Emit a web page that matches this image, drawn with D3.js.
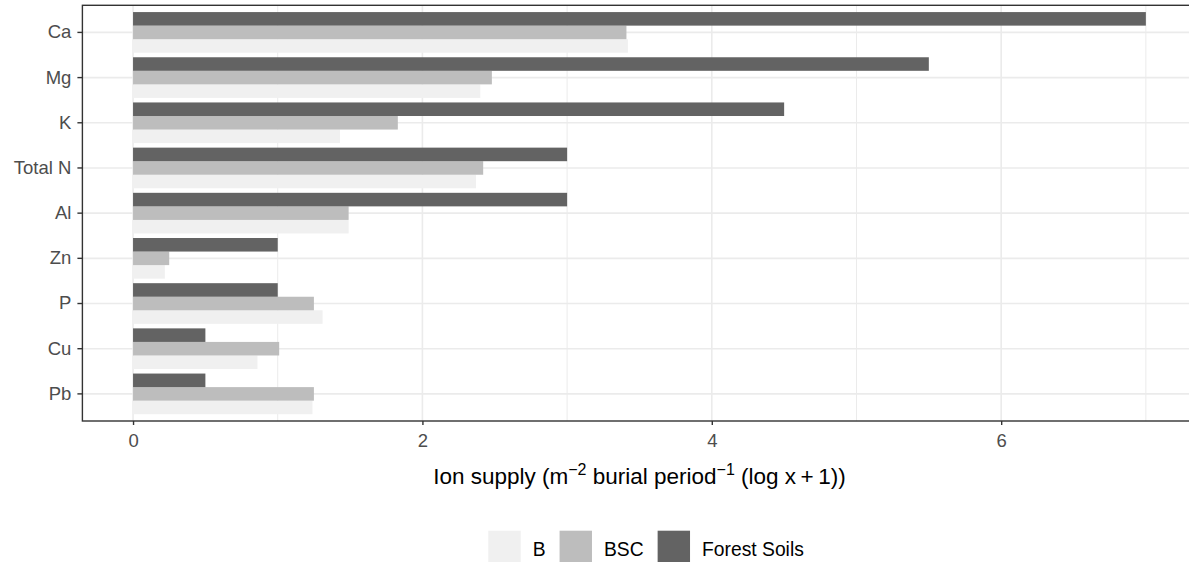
<!DOCTYPE html>
<html>
<head>
<meta charset="utf-8">
<script src="https://cdn.jsdelivr.net/npm/d3@7"></script>
<style>
  body { margin: 0; background: #fff; }
  svg { display: block; font-family: "Liberation Sans", Arial, sans-serif; }
</style>
</head>
<body>
<div id="chart"></div>
<script>
// element order, top to bottom
const elements = ["Ca", "Mg", "K", "Total N", "Al", "Zn", "P", "Cu", "Pb"];
const seriesNames = ["B", "BSC", "Forest Soils"];
const valuesB = [3.42, 2.40, 1.43, 2.37, 1.49, 0.22, 1.31, 0.86, 1.24];
const valuesBSC = [3.41, 2.48, 1.83, 2.42, 1.49, 0.25, 1.25, 1.01, 1.25];
const valuesForest = [7.0, 5.5, 4.5, 3.0, 3.0, 1.0, 1.0, 0.5, 0.5];
const xTicks = [0, 2, 4, 6];
const xMinor = [1, 3, 5, 7];
const fills = ["#F0F0F0", "#BDBDBD", "#636363"];

const width = 1189, height = 562;
const panel = { left: 82.4, top: 5.3, right: 1196.5, bottom: 421 };

const svg = d3.select("#chart").append("svg")
    .attr("width", width)
    .attr("height", height);

const x = d3.scaleLinear().domain([-0.35, 7.35]).range([panel.left, panel.right]);
const y = d3.scaleBand().domain(elements).range([panel.top, panel.bottom])
    .paddingInner(0.1).paddingOuter(0.15);
// dodge: B at the bottom, Forest Soils at the top of each group
const inner = d3.scaleBand().domain(["Forest Soils", "BSC", "B"]).range([0, y.bandwidth()]);
const color = d3.scaleOrdinal().domain(seriesNames).range(fills);

const rows = [];
elements.forEach((el, i) => {
    rows.push({ el, series: "B", value: valuesB[i] });
    rows.push({ el, series: "BSC", value: valuesBSC[i] });
    rows.push({ el, series: "Forest Soils", value: valuesForest[i] });
});

// grid
const grid = svg.append("g");
grid.selectAll(".minor").data(xMinor).join("line")
    .attr("x1", d => x(d)).attr("x2", d => x(d))
    .attr("y1", panel.top).attr("y2", panel.bottom)
    .attr("stroke", "#EBEBEB").attr("stroke-width", 1);
grid.selectAll(".major").data(xTicks).join("line")
    .attr("x1", d => x(d)).attr("x2", d => x(d))
    .attr("y1", panel.top).attr("y2", panel.bottom)
    .attr("stroke", "#EBEBEB").attr("stroke-width", 1.6);
grid.selectAll(".hmajor").data(elements).join("line")
    .attr("x1", panel.left).attr("x2", panel.right)
    .attr("y1", d => y(d) + y.bandwidth() / 2).attr("y2", d => y(d) + y.bandwidth() / 2)
    .attr("stroke", "#EBEBEB").attr("stroke-width", 1.6);

// bars
svg.append("g").selectAll("rect").data(rows).join("rect")
    .attr("x", x(0))
    .attr("y", d => y(d.el) + inner(d.series))
    .attr("width", d => x(d.value) - x(0))
    .attr("height", inner.bandwidth())
    .attr("fill", d => color(d.series));

// panel border
svg.append("rect")
    .attr("x", panel.left).attr("y", panel.top)
    .attr("width", panel.right - panel.left).attr("height", panel.bottom - panel.top)
    .attr("fill", "none").attr("stroke", "#333333").attr("stroke-width", 1.4);

// x axis
const xAxis = svg.append("g")
    .attr("transform", `translate(0,${panel.bottom})`)
    .call(d3.axisBottom(x).tickValues(xTicks).tickSize(4).tickPadding(9).tickFormat(d3.format("d")));
xAxis.select(".domain").remove();
xAxis.selectAll(".tick line").attr("stroke", "#333333").attr("stroke-width", 1.4);
xAxis.selectAll(".tick text").attr("fill", "#4D4D4D").attr("font-size", 18.5)
    .attr("font-family", "Liberation Sans, Arial, sans-serif");

// y axis
const yAxis = svg.append("g")
    .attr("transform", `translate(${panel.left},0)`)
    .call(d3.axisLeft(y).tickSize(5).tickPadding(6));
yAxis.select(".domain").remove();
yAxis.selectAll(".tick line").attr("stroke", "#333333").attr("stroke-width", 1.4);
yAxis.selectAll(".tick text").attr("fill", "#4D4D4D").attr("font-size", 18.5)
    .attr("font-family", "Liberation Sans, Arial, sans-serif");

// x axis title
const title = svg.append("text")
    .attr("x", (panel.left + panel.right) / 2)
    .attr("y", 483.5)
    .attr("text-anchor", "middle")
    .attr("font-size", 22.5)
    .attr("fill", "#000");
title.append("tspan").text("Ion supply (m");
title.append("tspan").attr("dy", -9).attr("font-size", 16).text("\u22122");
title.append("tspan").attr("dy", 9).text(" burial period");
title.append("tspan").attr("dy", -9).attr("font-size", 16).text("\u22121");
title.append("tspan").attr("dy", 9).text(" (log x\u2009+\u20091))");

// legend
const legend = svg.append("g");
let lx = 488.3;
seriesNames.forEach((name, i) => {
    legend.append("rect")
        .attr("x", lx).attr("y", 530.7)
        .attr("width", 32.4).attr("height", 32.4)
        .attr("fill", color(name));
    const t = legend.append("text")
        .attr("x", lx + 32.4 + 12)
        .attr("y", 555.5)
        .attr("font-size", 19.3)
        .attr("fill", "#000")
        .text(name);
    lx += 32.4 + 12 + t.node().getComputedTextLength() + 14;
});
</script>
</body>
</html>
